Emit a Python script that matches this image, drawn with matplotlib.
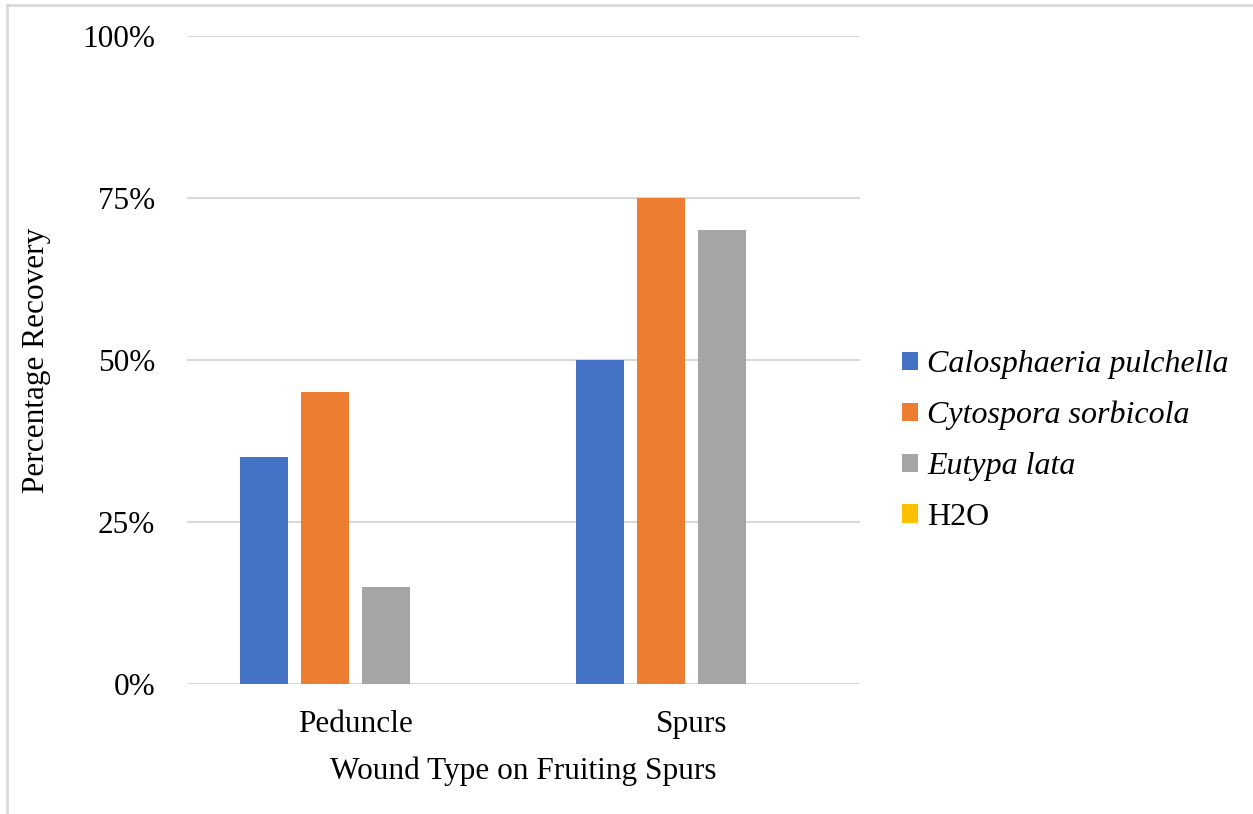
import matplotlib
matplotlib.use("Agg")
import matplotlib.pyplot as plt
from matplotlib.lines import Line2D
import numpy as np

categories = ["Peduncle", "Spurs"]
series_names = ["Calosphaeria pulchella", "Cytospora sorbicola", "Eutypa lata", "H2O"]
series_italic = [True, True, True, False]
values = {
    "Calosphaeria pulchella": [35, 50],
    "Cytospora sorbicola": [45, 75],
    "Eutypa lata": [15, 70],
    "H2O": [0, 0],
}
colors = ["#4472C4", "#ED7D31", "#A5A5A5", "#FFC000"]
yticks = [0, 25, 50, 75, 100]
ytick_labels = ["0%", "25%", "50%", "75%", "100%"]

plt.rcParams['font.family'] = ['Liberation Serif', 'DejaVu Serif']
FS = 22.5

W, H = 1253, 814
fig = plt.figure(figsize=(W / 100, H / 100), dpi=100)
ax = fig.add_axes([187 / W, 1 - 684 / H, (860 - 187) / W, (684 - 36) / H])

x = np.arange(len(categories))
bw = 48 / 336.5
step = 61 / 336.5
n = len(series_names)
handles = []
for i, name in enumerate(series_names):
    off = (i - (n - 1) / 2) * step
    b = ax.bar(x + off, values[name], width=bw, color=colors[i], zorder=3, label=name)
    handles.append(b)

ax.set_xlim(-0.5, 1.5)
ax.set_ylim(0, 100)
ax.set_yticks(yticks)
ax.set_yticklabels(ytick_labels, fontsize=FS)
ax.set_xticks(x)
ax.set_xticklabels(categories, fontsize=FS)
ax.tick_params(axis='both', length=0)
ax.tick_params(axis='y', pad=23)
ax.tick_params(axis='x', pad=19)
ax.grid(axis='y', color='#D9D9D9', linewidth=1.5, zorder=0)
for s in ax.spines.values():
    s.set_visible(False)
ax.set_ylabel("Percentage Recovery", fontsize=FS, labelpad=22)
ax.set_xlabel("Wound Type on Fruiting Spurs", fontsize=FS, labelpad=12)

leg = fig.legend(handles=handles, labels=series_names, loc='center left',
                 bbox_to_anchor=(902 / W, 1 - 441 / H), frameon=False,
                 fontsize=FS + 0.5, handlelength=0.5, handleheight=0.5,
                 handletextpad=0.28, labelspacing=0.68, borderpad=0, borderaxespad=0)
for t, it in zip(leg.get_texts(), series_italic):
    t.set_fontstyle('italic' if it else 'normal')

# outer border (top and left visible)
fig.add_artist(Line2D([6.5 / W, 6.5 / W], [0, 1 - 4.5 / H], color='#D9D9D9', lw=2, transform=fig.transFigure))
fig.add_artist(Line2D([6.5 / W, 1], [1 - 4.5 / H, 1 - 4.5 / H], color='#D9D9D9', lw=2, transform=fig.transFigure))

fig.savefig("out.png", dpi=100)
